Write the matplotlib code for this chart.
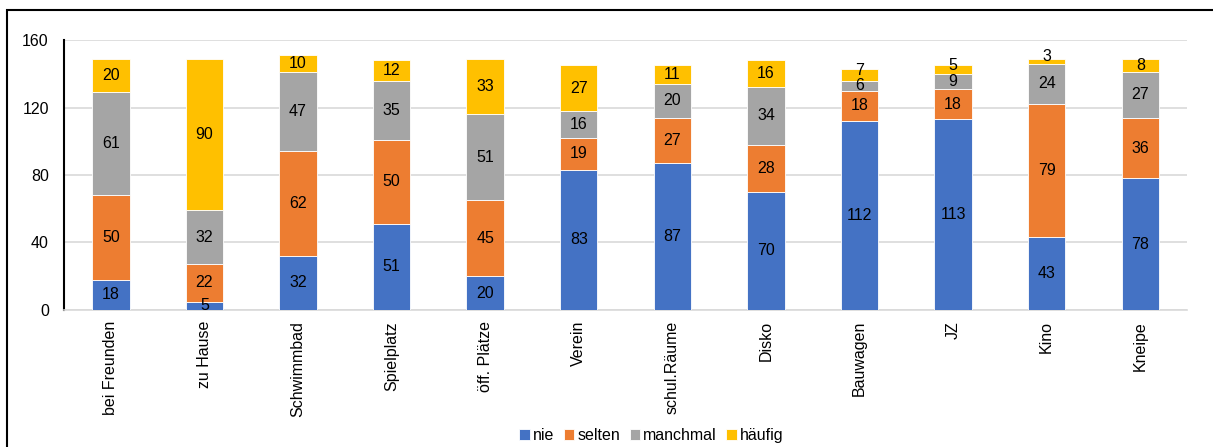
import matplotlib.pyplot as plt
import numpy as np
from matplotlib.patches import Rectangle

plt.rcParams['font.family'] = ['Liberation Sans', 'DejaVu Sans']

orte = ["bei Freunden", "zu Hause", "Schwimmbad", "Spielplatz", "öff. Plätze", "Verein",
        "schul.Räume", "Disko", "Bauwagen", "JZ", "Kino", "Kneipe"]
nie = [18, 5, 32, 51, 20, 83, 87, 70, 112, 113, 43, 78]
selten = [50, 22, 62, 50, 45, 19, 27, 28, 18, 18, 79, 36]
manchmal = [61, 32, 47, 35, 51, 16, 20, 34, 6, 9, 24, 27]
haeufig = [20, 90, 10, 12, 33, 27, 11, 16, 7, 5, 3, 8]

serien = [("nie", nie, "#4472C4"), ("selten", selten, "#ED7D31"),
          ("manchmal", manchmal, "#A5A5A5"), ("häufig", haeufig, "#FFC000")]

fs = 11.5

fig = plt.figure(figsize=(12.13, 4.47), dpi=100)
ax = fig.add_axes([0.0528, 0.3065, 0.9258, 0.604])

x = np.arange(len(orte))
unten = np.zeros(len(orte))
for name, werte, farbe in serien:
    bars = ax.bar(x, werte, 0.4, bottom=unten, color=farbe, edgecolor="white",
                  linewidth=0.6, label=name, zorder=3)
    for xi, u, v in zip(x, unten, werte):
        dy = 0
        if name == "häufig" and v < 8:
            dy = 3  # kleine Segmente: Beschriftung etwas nach oben
        ax.annotate(str(v), (xi, u + v / 2), xytext=(0, dy), textcoords="offset points",
                    ha="center", va="center", fontsize=fs, color="black", zorder=4)
    unten += np.array(werte)

ax.set_xlim(-0.5, len(orte) - 0.5)
ax.set_ylim(0, 160)
ax.set_yticks([0, 40, 80, 120, 160])
ax.set_xticks(x)
ax.set_xticklabels(orte, rotation=90, fontsize=fs)
ax.tick_params(axis="y", labelsize=fs, length=0, pad=11)
ax.tick_params(axis="x", length=0, pad=8)
ax.grid(axis="y", color="#D9D9D9", linewidth=1.2, zorder=0)
for s in ["top", "right"]:
    ax.spines[s].set_visible(False)
ax.spines["left"].set_color("black")
ax.spines["left"].set_linewidth(1.5)
ax.spines["bottom"].set_color("#D9D9D9")
ax.spines["bottom"].set_linewidth(1.2)

fig.legend(loc="center", bbox_to_anchor=(0.537, 0.025), ncol=4, frameon=False,
           fontsize=fs, handlelength=0.65, handleheight=0.65, handletextpad=0.2,
           columnspacing=0.6)

# Rahmen um das Diagramm
fig.patches.append(Rectangle((7 / 1213, -0.1), 1.2, 1.1 - 10 / 447,
                             transform=fig.transFigure, fill=False,
                             edgecolor="black", linewidth=1.5))

fig.savefig("out.png", dpi=100)
